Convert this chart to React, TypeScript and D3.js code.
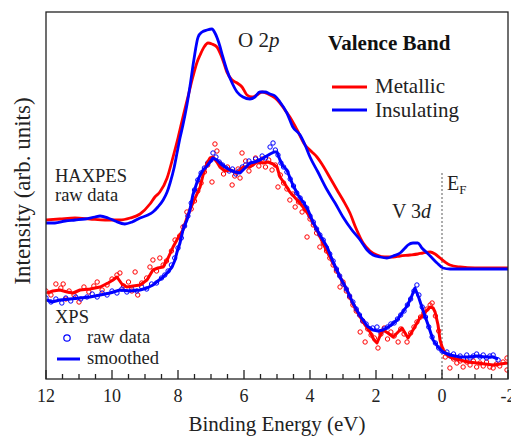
import React from 'react';
import * as d3 from 'd3';

type P = [number, number];

// HAXPES curves (binding energy eV, intensity arb.)
const haxpesMetallic: P[] = [[12.00,159],[11.58,160],[11.12,161],[10.67,160],[10.21,159],[9.76,159],[9.45,161],[9.15,165],[8.85,175],[8.70,182],[8.55,187],[8.33,201],[8.15,222],[8.00,241],[7.85,262],[7.70,282],[7.55,302],[7.42,317],[7.33,324],[7.21,332],[7.09,336],[6.97,335],[6.82,332],[6.70,324],[6.61,316],[6.52,307],[6.36,299],[6.21,296],[6.06,292],[5.91,284],[5.76,282],[5.61,284],[5.45,287],[5.27,285],[5.06,281],[4.91,276],[4.76,269],[4.61,262],[4.39,249],[4.15,234],[3.94,227],[3.79,222],[3.64,215],[3.39,201],[3.18,189],[3.00,179],[2.79,166],[2.61,151],[2.39,136],[2.18,128],[1.97,124],[1.73,122],[1.48,122],[1.27,123],[0.97,124],[0.73,125],[0.58,126],[0.36,127],[0.21,125],[0.06,121],[-0.09,117],[-0.24,114],[-0.55,112],[-1.00,111],[-1.45,111],[-2.00,111]];

const haxpesInsulating: P[] = [[12.00,156],[11.73,156],[11.42,158],[11.12,159],[10.82,160],[10.52,162],[10.36,163],[10.12,161],[9.91,158],[9.61,155],[9.39,157],[9.15,161],[8.91,164],[8.76,167],[8.61,172],[8.45,179],[8.33,187],[8.24,196],[8.12,211],[8.03,226],[7.94,241],[7.85,254],[7.73,274],[7.64,292],[7.52,319],[7.39,342],[7.27,347],[7.12,349],[6.97,350],[6.88,346],[6.76,336],[6.64,322],[6.52,309],[6.36,296],[6.21,287],[6.03,282],[5.82,280],[5.67,282],[5.52,287],[5.36,287],[5.21,285],[5.06,283],[4.91,277],[4.70,266],[4.52,252],[4.30,244],[4.15,234],[4.00,222],[3.76,207],[3.48,189],[3.24,176],[3.00,162],[2.73,149],[2.48,139],[2.27,129],[2.09,124],[1.88,122],[1.67,121],[1.48,123],[1.27,126],[1.12,131],[1.03,134],[0.88,136],[0.73,136],[0.61,131],[0.45,126],[0.30,121],[0.15,116],[-0.03,111],[-0.24,110],[-0.55,110],[-1.15,110],[-2.00,110]];

// XPS smoothed curves
const xpsMetallicSmoothed: P[] = [[11.97,86],[11.79,88],[11.58,89],[11.36,87],[11.18,86],[10.97,89],[10.67,90],[10.36,92],[10.12,96],[9.97,99],[9.85,102],[9.70,95],[9.55,92],[9.36,93],[9.15,94],[8.94,99],[8.76,109],[8.61,111],[8.45,112],[8.30,121],[8.15,132],[8.00,141],[7.85,149],[7.73,161],[7.64,169],[7.48,181],[7.33,192],[7.24,204],[7.12,216],[7.03,221],[6.94,222],[6.82,217],[6.73,212],[6.58,208],[6.42,209],[6.21,206],[6.03,212],[5.82,212],[5.61,217],[5.42,216],[5.27,217],[5.12,215],[5.00,212],[4.91,202],[4.76,195],[4.61,187],[4.39,179],[4.21,172],[4.00,162],[3.79,149],[3.55,132],[3.30,116],[3.09,102],[2.88,89],[2.70,75],[2.48,62],[2.33,54],[2.18,47],[2.06,39],[1.97,36],[1.88,43],[1.79,49],[1.64,46],[1.48,42],[1.33,47],[1.21,51],[1.12,46],[1.03,41],[0.88,49],[0.76,56],[0.67,61],[0.58,64],[0.45,69],[0.36,72],[0.27,71],[0.21,67],[0.12,54],[0.06,39],[-0.03,29],[-0.15,24],[-0.30,21],[-0.55,19],[-0.79,17],[-1.06,16],[-1.30,15],[-1.55,14],[-1.76,15],[-2.00,16]];

const xpsInsulatingSmoothed: P[] = [[11.97,79],[11.82,77],[11.58,79],[11.27,80],[10.97,81],[10.67,82],[10.36,84],[10.06,86],[9.76,89],[9.45,88],[9.15,89],[8.94,91],[8.76,94],[8.61,98],[8.45,102],[8.30,107],[8.18,112],[8.09,119],[8.03,127],[7.94,136],[7.85,149],[7.73,159],[7.64,169],[7.55,184],[7.42,197],[7.33,204],[7.24,209],[7.12,213],[7.03,217],[6.94,221],[6.82,219],[6.73,216],[6.58,212],[6.42,209],[6.27,207],[6.12,206],[5.97,211],[5.82,216],[5.67,217],[5.52,219],[5.36,222],[5.21,225],[5.09,227],[5.00,227],[4.91,219],[4.82,213],[4.70,209],[4.52,194],[4.36,184],[4.21,177],[4.06,169],[3.91,157],[3.70,144],[3.48,132],[3.30,117],[3.09,102],[2.88,89],[2.70,76],[2.48,63],[2.27,53],[2.09,49],[1.94,48],[1.79,49],[1.58,53],[1.36,59],[1.21,66],[1.06,73],[0.94,81],[0.82,91],[0.70,81],[0.58,69],[0.42,54],[0.27,39],[0.12,32],[-0.03,27],[-0.24,24],[-0.55,22],[-0.85,22],[-1.06,23],[-1.30,22],[-1.55,22],[-1.70,20]];

// XPS raw data
const xpsMetallicRaw: P[] = [[12.0,88],[11.85,84],[11.7,95],[11.55,91],[11.48,95],[11.4,80],[11.3,88],[11.15,84],[11.0,77],[10.85,92],[10.7,87],[10.55,93],[10.45,97],[10.3,89],[10.15,94],[10.0,100],[9.85,104],[9.76,106],[9.65,93],[9.5,97],[9.4,88],[9.3,107],[9.22,84],[9.1,96],[8.95,101],[8.85,112],[8.76,119],[8.65,108],[8.55,121],[8.45,114],[8.35,118],[8.2,128],[8.09,139],[7.95,143],[7.85,152],[7.73,167],[7.6,170],[7.5,178],[7.4,188],[7.3,196],[7.2,207],[7.1,214],[6.97,197],[6.88,235],[6.82,228],[6.72,215],[6.62,205],[6.5,212],[6.36,194],[6.28,203],[6.18,210],[6.12,201],[6.06,226],[5.95,218],[5.85,208],[5.75,215],[5.65,221],[5.55,213],[5.45,220],[5.35,212],[5.25,219],[5.15,209],[5.05,214],[4.97,192],[4.9,204],[4.8,196],[4.7,190],[4.61,179],[4.52,185],[4.45,172],[4.35,177],[4.24,167],[4.15,170],[4.09,142],[4.0,160],[3.9,154],[3.8,146],[3.7,132],[3.6,136],[3.5,128],[3.4,121],[3.3,114],[3.2,108],[3.09,92],[3.0,97],[2.9,88],[2.8,82],[2.7,74],[2.6,68],[2.48,47],[2.4,58],[2.33,37],[2.25,50],[2.15,44],[2.05,41],[1.94,31],[1.85,45],[1.75,51],[1.65,40],[1.55,47],[1.45,43],[1.33,37],[1.25,50],[1.15,45],[1.06,37],[0.95,46],[0.85,52],[0.76,57],[0.65,62],[0.55,66],[0.45,70],[0.36,74],[0.3,76],[0.2,63],[0.1,48],[0.0,30],[-0.1,22],[-0.24,11],[-0.35,20],[-0.45,16],[-0.55,18],[-0.64,12],[-0.75,17],[-0.85,14],[-0.95,18],[-1.05,12],[-1.15,16],[-1.25,13],[-1.35,17],[-1.45,12],[-1.55,11],[-1.65,15],[-1.75,13],[-1.85,17],[-1.97,9],[-1.97,21]];

const xpsInsulatingRaw: P[] = [[12.0,81],[11.85,77],[11.7,80],[11.52,76],[11.4,81],[11.25,78],[11.1,82],[10.95,80],[10.76,82],[10.6,85],[10.45,82],[10.3,86],[10.15,84],[10.0,88],[9.85,86],[9.7,90],[9.55,87],[9.4,90],[9.25,88],[9.1,92],[8.95,90],[8.8,95],[8.65,96],[8.5,101],[8.4,104],[8.3,108],[8.2,114],[8.1,121],[8.0,131],[7.9,141],[7.8,153],[7.7,163],[7.6,176],[7.5,189],[7.4,199],[7.3,206],[7.2,211],[7.1,216],[7.0,219],[6.94,226],[6.85,222],[6.75,217],[6.65,214],[6.55,211],[6.45,208],[6.35,210],[6.25,205],[6.15,208],[6.05,212],[5.95,214],[5.85,218],[5.75,215],[5.65,220],[5.55,218],[5.45,223],[5.35,221],[5.21,232],[5.12,236],[5.05,229],[4.97,224],[4.88,216],[4.8,212],[4.7,207],[4.6,200],[4.5,193],[4.4,186],[4.3,181],[4.2,176],[4.1,171],[4.0,163],[3.9,157],[3.8,150],[3.7,144],[3.6,139],[3.5,131],[3.4,125],[3.3,118],[3.2,110],[3.1,103],[3.0,95],[2.9,90],[2.8,83],[2.7,77],[2.6,70],[2.5,64],[2.4,58],[2.3,55],[2.2,50],[2.1,51],[1.97,52],[1.85,47],[1.75,50],[1.65,52],[1.55,55],[1.45,56],[1.35,60],[1.25,64],[1.15,68],[1.05,74],[0.95,80],[0.85,88],[0.76,94],[0.7,84],[0.6,72],[0.5,62],[0.4,52],[0.3,42],[0.2,36],[0.1,31],[0.0,28],[-0.15,27],[-0.25,23],[-0.35,25],[-0.45,21],[-0.55,23],[-0.65,20],[-0.75,24],[-0.85,21],[-0.95,23],[-1.05,25],[-1.15,22],[-1.25,24],[-1.35,21],[-1.45,23],[-1.55,24],[-1.7,19]];

const majorTicks = [12, 10, 8, 6, 4, 2, 0, -2];
const tickLabels = ['12', '10', '8', '6', '4', '2', '0', '-2'];
const minorTicks = [11.5, 11, 10.5, 9.5, 9, 8.5, 7.5, 7, 6.5, 5.5, 5, 4.5, 3.5, 3, 2.5, 1.5, 1, 0.5, -0.5, -1, -1.5];

const RED = '#ff0000';
const BLUE = '#0000ff';
const FONT = "'Liberation Serif', 'DejaVu Serif', serif";

export default function App() {
  const left = 46, right = 508, top = 12, bottom = 379;
  const x = d3.scaleLinear().domain([12, -2]).range([left, right]);
  const y = d3.scaleLinear().domain([0, 367]).range([bottom, top]);
  const smooth = d3.line<P>().x(d => x(d[0])).y(d => y(d[1])).curve(d3.curveMonotoneX);
  const lin = d3.line<P>().x(d => x(d[0])).y(d => y(d[1]));
  const ts: React.CSSProperties = { fontFamily: FONT };

  return (
    <svg width={511} height={436} style={{ position: 'absolute', left: 0, top: 0, background: '#fff', fontFamily: FONT }}>
      <rect x={0} y={0} width={511} height={436} fill="#fff" />
      <defs>
        <clipPath id="plot"><rect x={left} y={top} width={right - left} height={bottom - top} /></clipPath>
      </defs>
      {/* E_F dotted line */}
      <line x1={x(0)} x2={x(0)} y1={173} y2={bottom} stroke="#777" strokeWidth={1.2} strokeDasharray="2,2" />
      <g clipPath="url(#plot)">
        <path d={smooth(haxpesMetallic) || ''} fill="none" stroke={RED} strokeWidth={2.8} strokeLinejoin="round" />
        <path d={smooth(haxpesInsulating) || ''} fill="none" stroke={BLUE} strokeWidth={2.8} strokeLinejoin="round" />
        {xpsMetallicRaw.map((d, i) => (
          <circle key={'mr' + i} cx={x(d[0])} cy={y(d[1])} r={2.2} fill="none" stroke={RED} strokeWidth={1} />
        ))}
        {xpsInsulatingRaw.map((d, i) => (
          <circle key={'ir' + i} cx={x(d[0])} cy={y(d[1])} r={2.2} fill="none" stroke={BLUE} strokeWidth={1} />
        ))}
        <path d={lin(xpsMetallicSmoothed) || ''} fill="none" stroke={RED} strokeWidth={3} strokeLinejoin="round" />
        <path d={lin(xpsInsulatingSmoothed) || ''} fill="none" stroke={BLUE} strokeWidth={3} strokeLinejoin="round" />
      </g>
      {/* frame */}
      <rect x={left} y={top} width={right - left} height={bottom - top} fill="none" stroke="#222" strokeWidth={1.3} />
      {/* ticks */}
      {majorTicks.map((t, i) => (
        <g key={'mt' + i}>
          <line x1={x(t)} x2={x(t)} y1={bottom} y2={bottom - 9} stroke="#222" strokeWidth={1.3} />
          <text x={x(t)} y={402} fontSize={18} textAnchor="middle" fill="#222" style={ts}>{tickLabels[i]}</text>
        </g>
      ))}
      {minorTicks.map((t, i) => (
        <line key={'mn' + i} x1={x(t)} x2={x(t)} y1={bottom} y2={bottom - 5} stroke="#222" strokeWidth={1.3} />
      ))}
      {/* axis titles */}
      <text x={277} y={431} fontSize={21} textAnchor="middle" fill="#222" style={ts}>Binding Energy (eV)</text>
      <text transform="translate(30,191) rotate(-90)" fontSize={23} textAnchor="middle" fill="#222" style={ts}>Intensity (arb. units)</text>
      {/* annotations */}
      <text x={238} y={47} fontSize={21} fill="#222" style={ts}>O 2<tspan fontStyle="italic">p</tspan></text>
      <text x={328} y={50} fontSize={21} fontWeight="bold" fill="#111" style={ts}>Valence Band</text>
      <line x1={332} x2={367} y1={87} y2={87} stroke={RED} strokeWidth={3} />
      <text x={375} y={93} fontSize={21} fill="#222" style={ts}>Metallic</text>
      <line x1={332} x2={367} y1={110} y2={110} stroke={BLUE} strokeWidth={3} />
      <text x={375} y={117} fontSize={21} fill="#222" style={ts}>Insulating</text>
      <text x={55} y={182} fontSize={18.5} fill="#222" style={ts}>HAXPES</text>
      <text x={55} y={201} fontSize={18.5} fill="#222" style={ts}>raw data</text>
      <text x={392} y={218} fontSize={20} fill="#222" style={ts}>V 3<tspan fontStyle="italic">d</tspan></text>
      <text x={447} y={190} fontSize={20} fill="#222" style={ts}>E<tspan fontSize={13} dy={4}>F</tspan></text>
      <text x={55} y={323} fontSize={18.5} fill="#222" style={ts}>XPS</text>
      <circle cx={67} cy={338} r={3.2} fill="none" stroke={BLUE} strokeWidth={1.2} />
      <text x={87} y={343} fontSize={18.5} fill="#222" style={ts}>raw data</text>
      <line x1={57} x2={80} y1={359} y2={359} stroke={BLUE} strokeWidth={3} />
      <text x={87} y={364} fontSize={18.5} fill="#222" style={ts}>smoothed</text>
    </svg>
  );
}
